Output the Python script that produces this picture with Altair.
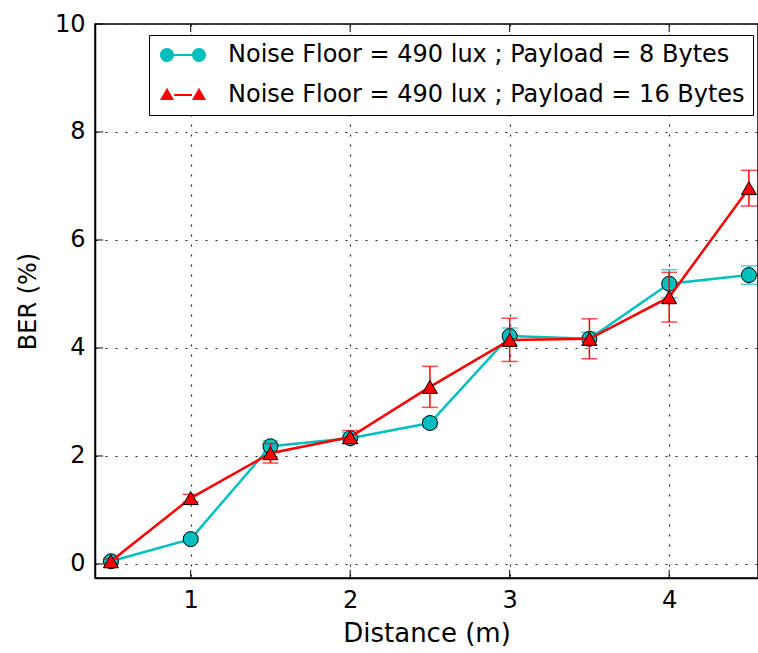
import altair as alt
import pandas as pd

# ---- data ----
distance = [0.5, 1.0, 1.5, 2.0, 2.5, 3.0, 3.5, 4.0, 4.5]
ber_8 = [0.05, 0.46, 2.18, 2.33, 2.61, 4.22, 4.17, 5.19, 5.35]
err_8 = [0.04, 0.05, 0.10, 0.10, 0.08, 0.15, 0.12, 0.26, 0.17]
ber_16 = [0.05, 1.22, 2.05, 2.35, 3.28, 4.15, 4.17, 4.94, 6.96]
err_16 = [0.04, 0.07, 0.18, 0.12, 0.38, 0.40, 0.37, 0.46, 0.33]

series_labels = [
    "Noise Floor = 490 lux ; Payload = 8 Bytes",
    "Noise Floor = 490 lux ; Payload = 16 Bytes",
]
series_colors = ["#00BFBF", "#FF0000"]
series_shapes = ["circle", "triangle-up"]

# legend glyphs: marker - line - marker (symbol space, scaled by sqrt(size)/2)
legend_glyphs = [
    "M-1.917,0 A0.583,0.583 0 1,1 -0.75,0 A0.583,0.583 0 1,1 -1.917,0 Z "
    "M0.75,0 A0.583,0.583 0 1,1 1.917,0 A0.583,0.583 0 1,1 0.75,0 Z "
    "M-0.75,-0.085 L0.75,-0.085 L0.75,0.085 L-0.75,0.085 Z",
    "M-1.917,0.42 L-0.75,0.42 L-1.333,-0.6 Z "
    "M0.75,0.42 L1.917,0.42 L1.333,-0.6 Z "
    "M-0.75,-0.085 L0.75,-0.085 L0.75,0.085 L-0.75,0.085 Z",
]

x_ticks = [1, 2, 3, 4]
y_ticks = [0, 2, 4, 6, 8, 10]

rows = []
for lab, vals, errs in zip(series_labels, [ber_8, ber_16], [err_8, err_16]):
    for d, v, e in zip(distance, vals, errs):
        rows.append({"d": d, "ber": v, "lo": v - e, "hi": v + e, "series": lab})
df = pd.DataFrame(rows)

FONT = "DejaVu Sans"
W, H = 663, 554
TICK = 8

x_scale = alt.Scale(domain=[0.4, 4.557], nice=False, zero=False)
y_scale = alt.Scale(domain=[-0.26, 10], nice=False, zero=False)
color_scale = alt.Scale(domain=series_labels, range=series_colors)
shape_scale = alt.Scale(domain=series_labels, range=series_shapes)
legend_shape_scale = alt.Scale(domain=series_labels, range=legend_glyphs)

x_axis = alt.Axis(values=x_ticks, title="Distance (m)", format="d", titleFontSize=26)
y_axis = alt.Axis(values=y_ticks, title="BER (%)", format="d")
x_enc = alt.X("d:Q", scale=x_scale, axis=x_axis)

legend = alt.Legend(
    title=None, orient="none", legendX=54, legendY=11,
    fillColor="white", strokeColor="black", padding=8, rowPadding=16,
    symbolOffset=14, labelOffset=33, symbolSize=576,
    symbolStrokeWidth=0, symbolOpacity=1,
    labelFont=FONT, labelFontSize=24, labelColor="black", labelLimit=0,
    cornerRadius=0,
)

col = alt.Color("series:N", scale=color_scale, legend=None)
shp = alt.Shape("series:N", scale=shape_scale, legend=None)

layers = []

# inward tick marks (matplotlib style)
xt = alt.Chart(pd.DataFrame({"v": x_ticks}))
yt = alt.Chart(pd.DataFrame({"v": y_ticks}))
xv = alt.X("v:Q", scale=x_scale, axis=x_axis)
yv = alt.Y("v:Q", scale=y_scale, axis=y_axis)
layers += [
    xt.mark_rule(color="black", strokeWidth=1).encode(x=xv, y=alt.value(H), y2=alt.value(H - TICK)),
    xt.mark_rule(color="black", strokeWidth=1).encode(x=xv, y=alt.value(0), y2=alt.value(TICK)),
    yt.mark_rule(color="black", strokeWidth=1).encode(y=yv, x=alt.value(0), x2=alt.value(TICK)),
]

base = alt.Chart(df)
for lab in series_labels:
    sub = base.transform_filter(alt.datum.series == lab)
    bars = sub.mark_rule(strokeWidth=1.5).encode(
        x=x_enc, y=alt.Y("lo:Q", scale=y_scale, axis=y_axis), y2="hi:Q", color=col)
    cap_lo = sub.mark_tick(orient="horizontal", size=16, thickness=1.5).encode(
        x=x_enc, y=alt.Y("lo:Q", scale=y_scale, axis=y_axis), color=col)
    cap_hi = sub.mark_tick(orient="horizontal", size=16, thickness=1.5).encode(
        x=x_enc, y=alt.Y("hi:Q", scale=y_scale, axis=y_axis), color=col)
    line = sub.mark_line(strokeWidth=2.5).encode(
        x=x_enc, y=alt.Y("ber:Q", scale=y_scale, axis=y_axis), color=col)
    pts = sub.mark_point(filled=True, size=225, stroke="black", strokeWidth=1,
                         opacity=1).encode(
        x=x_enc, y=alt.Y("ber:Q", scale=y_scale, axis=y_axis),
        color=col, shape=shp,
    )
    layers += [bars, cap_lo, cap_hi, line, pts]

# invisible layer that only carries the legend
legend_layer = base.mark_point(filled=True, opacity=0, size=1).encode(
    x=x_enc, y=alt.Y("ber:Q", scale=y_scale, axis=y_axis),
    color=alt.Color("series:N", scale=color_scale, legend=legend),
    shape=alt.Shape("series:N", scale=legend_shape_scale, legend=legend),
)
layers.append(legend_layer)

chart = alt.layer(*layers).resolve_scale(
    color="independent", shape="independent"
).properties(
    width=W, height=H,
    autosize="none",
    padding={"left": 95, "top": 24, "right": 0, "bottom": 75},
    background="white",
).configure_view(
    stroke="black", strokeWidth=1.5
).configure_axis(
    grid=True, gridColor="#222222", gridDash=[2, 8], gridWidth=1.2, gridOpacity=1,
    domainColor="black", domainWidth=1.5, ticks=False,
    labelFont=FONT, labelFontSize=24, labelColor="black", labelPadding=10,
    titleFont=FONT, titleFontSize=24, titleColor="black", titleFontWeight="normal",
).configure_axisX(
    titlePadding=8
).configure_axisY(
    titlePadding=14
)

chart.save("out.html", embed_options={"renderer": "svg", "actions": False})
